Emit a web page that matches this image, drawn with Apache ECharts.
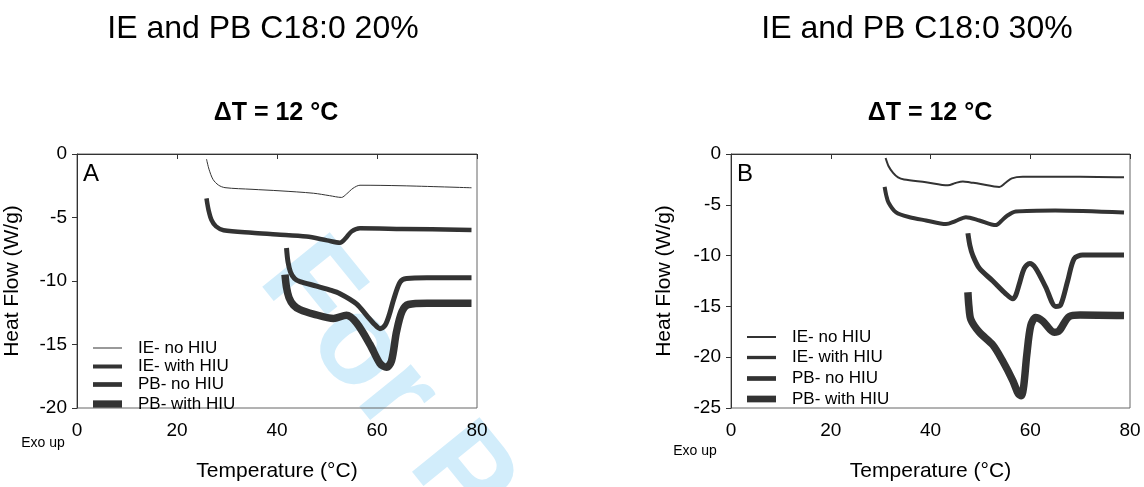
<!DOCTYPE html>
<html>
<head>
<meta charset="utf-8">
<title>DSC melting profiles</title>
<script src="https://cdn.jsdelivr.net/npm/echarts@6.0.0/dist/echarts.min.js"></script>
<style>
  html, body { margin: 0; padding: 0; background: #fff; }
  #chart { width: 1144px; height: 487px; }
</style>
</head>
<body>
<div id="chart"></div>
<script>
(function () {
	'use strict';

	var seriesNames = ['IE- no HIU', 'IE- with HIU', 'PB- no HIU', 'PB- with HIU'];
	var xTicks = [0, 20, 40, 60, 80];

	// panel A, C18:0 20% : [temperature (°C), heat flow (W/g)]
	var ieNoHiu20 = [[25.9, -0.4], [26.4, -1.2], [27.2, -2.0], [28.3, -2.45], [29.6, -2.65], [35, -2.78], [40.6, -2.9],
		[47.3, -3.09], [50.5, -3.28], [52.9, -3.42], [53.9, -3.15], [55.2, -2.7], [56.6, -2.46], [65, -2.5], [78.9, -2.66]];
	var ieWithHiu20 = [[25.9, -3.5], [26.3, -4.4], [26.9, -5.2], [27.8, -5.7], [29.3, -6.0], [35, -6.2], [40, -6.33],
		[45.9, -6.5], [50, -6.8], [52.6, -6.98], [53.7, -6.65], [54.9, -6.1], [56.6, -5.85], [65, -5.9], [78.9, -5.98]];
	var pbNoHiu20 = [[41.9, -7.4], [42.2, -8.5], [42.7, -9.3], [43.5, -9.8], [44.6, -10.05], [47.9, -10.4], [50.5, -10.7],
		[52.6, -11.0], [55.9, -11.8], [58, -12.75], [59.6, -13.45], [60.6, -13.75], [61.6, -13.5], [62.5, -12.6],
		[63.3, -11.5], [64.6, -10.1], [65.9, -9.8], [70, -9.75], [78.9, -9.75]];
	var pbWithHiu20 = [[41.6, -9.5], [41.9, -10.5], [42.4, -11.3], [43.3, -11.9], [44.6, -12.25], [47.3, -12.6],
		[51.3, -12.95], [53.9, -12.7], [55.9, -13.3], [58.6, -15.0], [60.6, -16.5], [61.9, -16.8], [62.9, -16.3],
		[63.9, -14.0], [65, -12.4], [66.3, -11.85], [70, -11.75], [78.9, -11.76]];

	// panel B, C18:0 30%
	var ieNoHiu30 = [[31.0, -0.4], [31.6, -1.2], [32.5, -1.85], [33.5, -2.3], [34.7, -2.5], [39.1, -2.77], [43.5, -3.08],
		[45, -2.85], [46.5, -2.7], [48, -2.8], [49.8, -2.92], [53.8, -3.24], [55, -2.85], [56.3, -2.4], [58.5, -2.25],
		[70, -2.25], [78.8, -2.3]];
	var ieWithHiu30 = [[30.8, -3.24], [31.1, -4.0], [31.6, -4.8], [33.1, -5.75], [35.8, -6.22], [39.1, -6.54],
		[43.1, -6.9], [45, -6.6], [47.1, -6.22], [49.8, -6.54], [53.1, -7.0], [54.2, -6.6], [55.3, -6.1], [57.1, -5.66],
		[65, -5.55], [78.8, -5.75]];
	var pbNoHiu30 = [[47.5, -7.8], [47.9, -9.0], [48.5, -10.0], [49.8, -11.25], [52.5, -12.5], [55.1, -13.76],
		[56.5, -14.25], [57.1, -13.9], [57.8, -12.8], [58.8, -11.25], [59.9, -10.78], [61.1, -11.25], [63.1, -13.1],
		[65.1, -15.0], [66.1, -14.86], [67.5, -12.5], [68.8, -10.3], [70.5, -9.95], [78.8, -9.95]];
	var pbWithHiu30 = [[47.5, -13.6], [47.7, -15.0], [48.1, -16.3], [49.8, -17.55], [52.5, -18.8], [54.5, -20.4],
		[56.5, -22.3], [57.6, -23.6], [58.2, -23.8], [58.7, -22.8], [59.3, -19.8], [60.1, -16.9], [61.1, -16.1],
		[62.5, -16.45], [64.8, -17.55], [65.8, -17.4], [67.8, -16.0], [70, -15.85], [78.8, -15.9]];

	var FONT = "Arial, 'Liberation Sans', sans-serif";
	var INK = '#333';

	var panels = [{
		title: 'IE and PB C18:0 20%', titleX: 263, subX: 276, letter: 'A',
		grid: {left: 77, top: 154, width: 400, height: 265},
		yMin: -20, yNameGap: 54, exoUp: [43, 443],
		data: [ieNoHiu20, ieWithHiu20, pbNoHiu20, pbWithHiu20],
		widths: [1, 4.5, 5, 7.5],
		legendX: 93, legendY: [349, 367.5, 385.5, 405], legendH: [1, 4, 4.7, 7.3]
	}, {
		title: 'IE and PB C18:0 30%', titleX: 917, subX: 930, letter: 'B',
		grid: {left: 731, top: 154, width: 399, height: 265},
		yMin: -25, yNameGap: 56, exoUp: [695, 451],
		data: [ieNoHiu30, ieWithHiu30, pbNoHiu30, pbWithHiu30],
		widths: [2, 4, 5, 7.5],
		legendX: 747, legendY: [338, 358.5, 379.5, 400], legendH: [2, 3.3, 4.7, 6.7]
	}];

	// tiny helper instead of jQuery
	var $ = {extend: function (a, b) { for (var k in b) a[k] = b[k]; return a; }};

	function txt(text, x, y, size, extra) {
		return {
			type: 'text', x: x, y: y, z: 100,
			style: $.extend({
				text: text, fontSize: size, fontFamily: FONT, fill: '#000',
				align: 'center', verticalAlign: 'middle'
			}, extra || {})
		};
	}

	var grids = [], xAxes = [], yAxes = [], series = [], legends = [];
	var graphics = [{
		// "For Peer Review" watermark behind the plots
		type: 'text', x: 235, y: 298, rotation: -0.89, z: -10,
		style: {
			text: 'For Peer Review', fontSize: 126, fontWeight: 'bold', fontFamily: FONT,
			fill: '#d2edfb', align: 'left', verticalAlign: 'bottom'
		}
	}];

	panels.forEach(function (p, i) {
		grids.push($.extend({show: true, borderColor: '#666', borderWidth: 1, backgroundColor: 'transparent'}, p.grid));

		xAxes.push({
			gridIndex: i, type: 'value', min: xTicks[0], max: xTicks[xTicks.length - 1], interval: 20,
			name: 'Temperature (°C)', nameLocation: 'middle', nameGap: 53,
			nameTextStyle: {fontSize: 21, color: '#000', fontFamily: FONT},
			axisLine: {lineStyle: {color: INK, width: 1}},
			axisTick: {length: 5, lineStyle: {color: INK}},
			axisLabel: {fontSize: 19, color: '#000', fontFamily: FONT, margin: 13},
			splitLine: {show: false}
		});

		yAxes.push({
			gridIndex: i, type: 'value', min: p.yMin, max: 0, interval: 5,
			name: 'Heat Flow (W/g)', nameLocation: 'middle', nameGap: p.yNameGap, nameRotate: 90,
			nameTextStyle: {fontSize: 21, color: '#000', fontFamily: FONT},
			axisLine: {lineStyle: {color: INK, width: 1}},
			axisTick: {length: 5, lineStyle: {color: INK}},
			axisLabel: {fontSize: 19, color: '#000', fontFamily: FONT, margin: 10},
			splitLine: {show: false}
		});

		p.data.forEach(function (d, k) {
			series.push({
				name: seriesNames[k], type: 'line',
				xAxisIndex: i, yAxisIndex: i,
				data: d, showSymbol: false, symbol: 'none',
				smooth: 0.3,
				lineStyle: {color: INK, width: p.widths[k], cap: 'butt', join: 'round'},
				itemStyle: {color: INK},
				z: 3
			});

			legends.push({
				data: [{name: seriesNames[k], icon: 'rect'}],
				left: p.legendX, top: p.legendY[k] - 9.5, padding: 0,
				itemWidth: 29, itemHeight: p.legendH[k],
				itemStyle: {color: INK, borderWidth: 0},
				selectedMode: false,
				formatter: '{t|{name}}',
				textStyle: {rich: {t: {padding: [0, 0, 0, 11], fontSize: 17, color: '#000', fontFamily: FONT}}}
			});
		});

		graphics.push(txt(p.title, p.titleX, 29, 32));
		graphics.push(txt('\u0394T = 12 \u00b0C', p.subX, 113.5, 25, {fontWeight: 'bold'}));
		graphics.push(txt(p.letter, p.grid.left + 14, 174, 24));
		graphics.push(txt('Exo up', p.exoUp[0], p.exoUp[1], 14));
	});

	var chart = echarts.init(document.getElementById('chart'), null, {renderer: 'canvas'});
	chart.setOption({
		animation: false,
		backgroundColor: '#fff',
		grid: grids,
		xAxis: xAxes,
		yAxis: yAxes,
		legend: legends,
		graphic: graphics,
		series: series
	});
})();
</script>
</body>
</html>
